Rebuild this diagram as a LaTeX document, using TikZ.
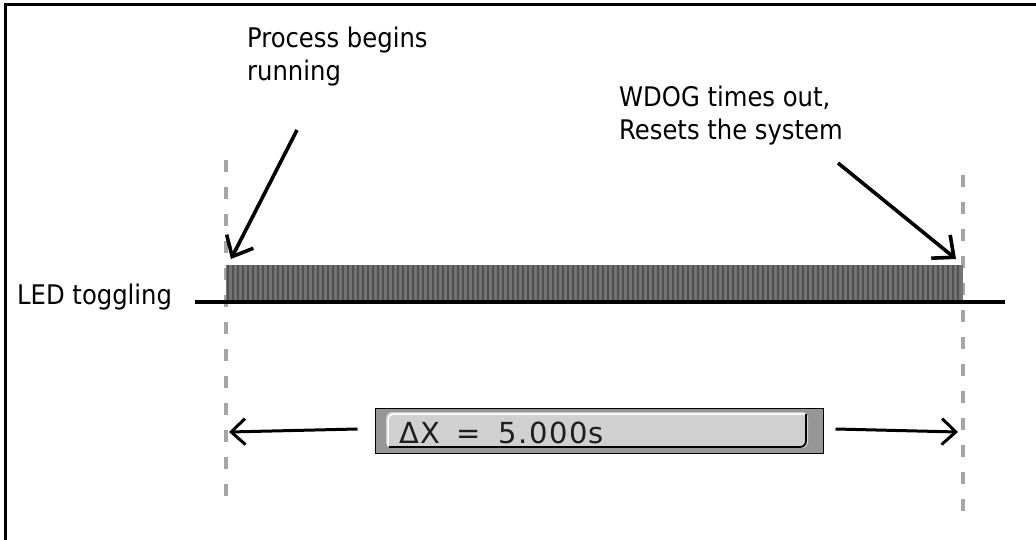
\documentclass[tikz,border=0pt]{standalone}
\usepackage{fontspec}
\setmainfont{DejaVu Sans Condensed}
\newfontfamily\lcdfont[LetterSpace=5]{DejaVu Sans}
\usetikzlibrary{arrows.meta}
\definecolor{dashgray}{RGB}{165,165,165}
\definecolor{blockgray}{RGB}{115,115,115}
\definecolor{stripegray}{RGB}{80,80,80}
\definecolor{boxgray}{RGB}{150,150,150}
\definecolor{innergray}{RGB}{208,208,208}
\definecolor{lcdtext}{RGB}{30,30,30}
\tikzset{
  lbl/.style={font=\fontsize{27}{33}\selectfont, inner sep=0pt, align=left, text=black},
  guide/.style={dashgray, line width=4pt, dash pattern=on 12pt off 15pt},
  pointer/.style={line width=3.6pt, -{Straight Barb[length=17pt,width=30pt]}},
  spanarrow/.style={line width=3pt, -{Straight Barb[length=14pt,width=26pt]}},
  frameline/.style={line width=3pt, black},
}
\begin{document}
\begin{tikzpicture}[x=1pt,y=-1pt]
\useasboundingbox (0,0) rectangle (1036,540);
\fill[white] (0,0) rectangle (1036,540);
% frame (top and left edges)
\draw[frameline] (1036,5) -- (5,5) -- (5,540);
% guides
\coordinate (gL1) at (226,160);
\coordinate (gL2) at (226,506);
\coordinate (gR1) at (963,175);
\coordinate (gR2) at (963,522);
\draw[guide] (gL1) -- (gL2);
\draw[guide] (gR1) -- (gR2);
% toggling block
\fill[blockgray] (226,265) rectangle (963,302);
\foreach \i in {0,...,146} {
  \draw[stripegray, line width=1.4pt] (228+\i*5,265) -- (228+\i*5,302);
}
% baseline
\coordinate (bl1) at (195,302);
\coordinate (bl2) at (1005,302);
\draw[line width=3.5pt, black] (bl1) -- (bl2);
% labels
\node[lbl, anchor=north west] (led) at (17,284) {LED toggling};
\node[lbl, anchor=north west] (proc) at (247,27) {Process begins\\running};
\node[lbl, anchor=north west] (wdog) at (619,86) {WDOG times out,\\Resets the system};
% pointers
\coordinate (pS) at (297,130);
\coordinate (pE) at (231,259);
\coordinate (wS) at (838,163);
\coordinate (wE) at (956,259);
\draw[pointer] (pS) -- (pE);
\draw[pointer] (wS) -- (wE);
% delta box
\node[draw=black, fill=boxgray, line width=1pt, inner sep=0pt, minimum width=448pt, minimum height=45pt] (boxn) at (599,430.5) {};
\fill[innergray, rounded corners=6pt] (386,412) rectangle (808,448);
\draw[white, line width=1.5pt, rounded corners=6pt] (388,446) -- (388,414) -- (806,414);
\draw[black, line width=1.8pt, rounded corners=6pt] (389,447) -- (806,447) -- (806,414);
\node[inner sep=0pt, anchor=base west, text=lcdtext, font=\lcdfont\fontsize{29}{30}\selectfont] (dx) at (399,443) {ΔX\hspace{16pt}=\hspace{18pt}5.000s};
% span arrows
\coordinate (aL) at (229,432);
\coordinate (aR) at (958,432);
\draw[spanarrow] (boxn.west) ++(-17pt,1.5pt) coordinate (aLs) -- (aL);
\draw[spanarrow] (boxn.east) ++(12pt,1.5pt) coordinate (aRs) -- (aR);
\end{tikzpicture}
\end{document}
